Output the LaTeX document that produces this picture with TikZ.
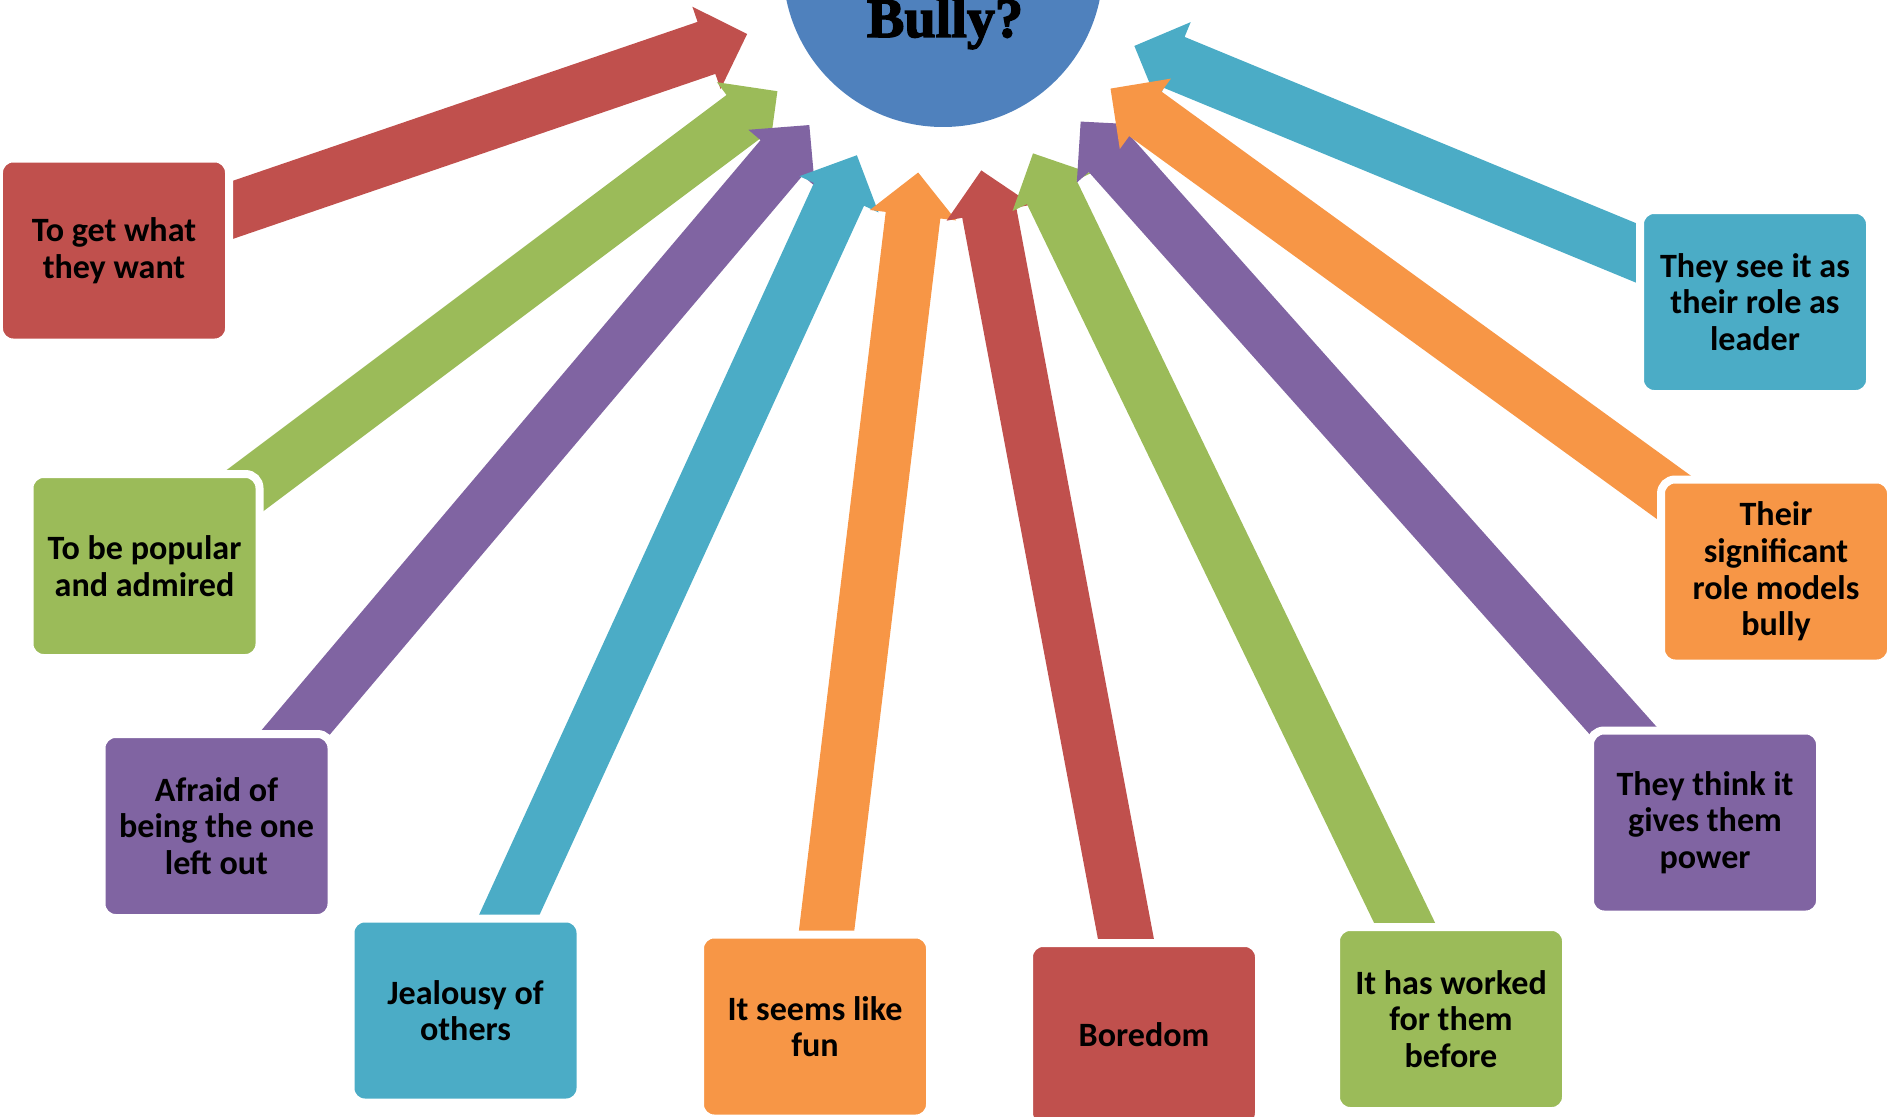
\documentclass[tikz,border=0pt]{standalone}
\usepackage{fontspec}
\newfontfamily\calibri{Carlito}
\newfontfamily\titlefont[FakeBold=2.5]{Liberation Serif}
\usetikzlibrary{calc,backgrounds}

\definecolor{bblue}{HTML}{4F81BD}
\definecolor{bred}{HTML}{C0504D}
\definecolor{bgreen}{HTML}{9BBB59}
\definecolor{bpurple}{HTML}{8064A2}
\definecolor{bcyan}{HTML}{4BACC6}
\definecolor{borange}{HTML}{F79646}

\begin{document}
\begin{tikzpicture}[
    box/.style={rounded corners=0.14cm, draw=white, line width=0.08cm,
      minimum width=2.30cm, minimum height=1.84cm, inner sep=0pt,
      align=center, font=\calibri\bfseries\fontsize{9.7}{10.4}\selectfont}]
  \useasboundingbox (0,0) rectangle (18.88,11.16);
  \clip (0,0) rectangle (18.88,11.16);

  % centre
  \node[circle, fill=bblue, minimum size=3.2cm, inner sep=0pt] (bully) at (9.43,11.49) {};
  \node[anchor=base, font=\titlefont\bfseries\fontsize{16}{17}\selectfont] (title) at (9.45,10.79) {Bully?};

  % reasons
  \node[box, fill=bred]    (b1)  at (1.14,8.655)  {To get what\\they want};
  \node[box, fill=bgreen]  (b2)  at (1.445,5.50)  {To be popular\\and admired};
  \node[box, fill=bpurple] (b3)  at (2.165,2.90)  {Afraid of\\being the one\\left out};
  \node[box, fill=bcyan]   (b4)  at (4.655,1.055) {Jealousy of\\others};
  \node[box, fill=borange] (b5)  at (8.15,0.895)  {It seems like\\fun};
  \node[box, fill=bred]    (b6)  at (11.44,0.81)  {Boredom};
  \node[box, fill=bgreen]  (b7)  at (14.51,0.97)  {It has worked\\for them\\before};
  \node[box, fill=bpurple] (b8)  at (17.05,2.935) {They think it\\gives them\\power};
  \node[box, fill=borange] (b9)  at (17.76,5.445) {Their\\significant\\role models\\bully};
  \node[box, fill=bcyan]   (b10) at (17.55,8.14)  {They see it as\\their role as\\leader};

  % block arrows, behind the boxes
  \begin{scope}[on background layer]
    \foreach \n/\c in {1/bred,2/bgreen,3/bpurple,4/bcyan,5/borange,6/bred,7/bgreen,8/bpurple,10/bcyan,9/borange}{
      \coordinate (tip\n) at ($(bully.center)!2.07cm!(b\n.center)$);
      \coordinate (neck\n) at ($(tip\n)!0.43cm!(b\n.center)$);
      \fill[\c] ($(b\n.center)!0.275cm!90:(tip\n)$)
        -- ($(neck\n)!0.275cm!90:(tip\n)$)
        -- ($(neck\n)!0.435cm!90:(tip\n)$)
        -- (tip\n)
        -- ($(neck\n)!0.435cm!-90:(tip\n)$)
        -- ($(neck\n)!0.275cm!-90:(tip\n)$)
        -- ($(b\n.center)!0.275cm!-90:(tip\n)$) -- cycle;
    }
  \end{scope}
\end{tikzpicture}
\end{document}
